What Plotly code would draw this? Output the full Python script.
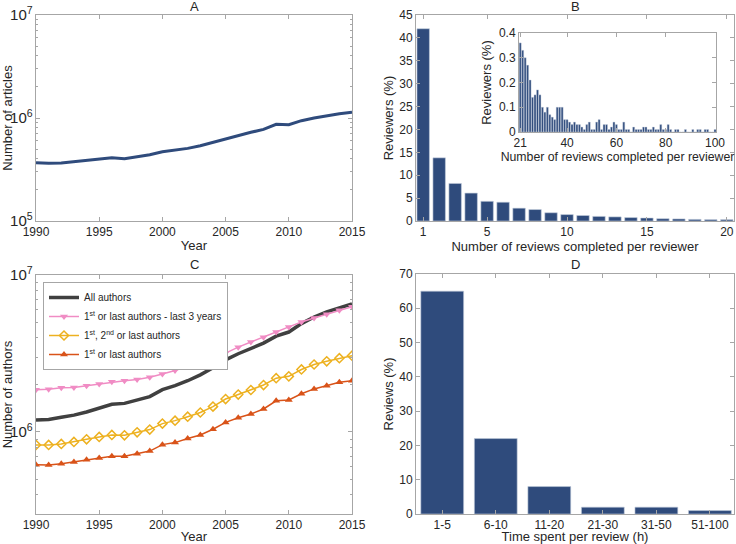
import plotly.graph_objects as go

# ---------------- data ----------------
years = list(range(1990, 2016))

articles = [368e3, 363e3, 365e3, 377e3, 391e3, 400e3, 412e3, 403e3, 421e3, 440e3,
            471e3, 489e3, 507e3, 538e3, 580e3, 635e3, 684e3, 726e3, 776e3, 868e3,
            861e3, 942e3, 1.00e6, 1.05e6, 1.10e6, 1.135e6]

reviews_per_reviewer = list(range(1, 21))
reviewers_pct = [42, 13.8, 8.2, 6.1, 4.3, 4.1, 2.8, 2.5, 1.8, 1.4,
                 1.2, 1.0, 0.9, 0.75, 0.65, 0.5, 0.45, 0.35, 0.3, 0.3]

inset_reviews = list(range(21, 101))
inset_pct = [0.36, 0.33, 0.30, 0.27, 0.21, 0.14, 0.15, 0.17, 0.15, 0.10,
             0.08, 0.10, 0.07, 0.06, 0.05, 0.10, 0.10, 0.10, 0.05, 0.05,
             0.04, 0.03, 0.04, 0.03, 0.03, 0.02, 0.01, 0.03, 0.04, 0.01,
             0.01, 0.04, 0.05, 0.01, 0.03, 0.03, 0.01, 0.02, 0.04, 0.03,
             0.01, 0.01, 0.04, 0.01, 0.01, 0.0, 0.02, 0.01, 0.01, 0.01,
             0.02, 0.02, 0.01, 0.01, 0.02, 0.01, 0.01, 0.03, 0.01, 0.01,
             0.03, 0.01, 0.0, 0.01, 0.01, 0.0, 0.0, 0.01, 0.0, 0.0,
             0.01, 0.0, 0.01, 0.01, 0.0, 0.01, 0.01, 0.0, 0.0, 0.01]

all_authors = [1.19e6, 1.20e6, 1.24e6, 1.28e6, 1.34e6, 1.41e6, 1.50e6, 1.52e6, 1.60e6, 1.68e6,
               1.86e6, 1.97e6, 2.12e6, 2.31e6, 2.56e6, 2.88e6, 3.15e6, 3.40e6, 3.68e6, 4.08e6,
               4.33e6, 4.90e6, 5.40e6, 5.82e6, 6.17e6, 6.55e6]
first_last_3y = [1.86e6, 1.87e6, 1.91e6, 1.92e6, 1.97e6, 2.02e6, 2.09e6, 2.12e6, 2.16e6, 2.23e6,
                 2.34e6, 2.46e6, 2.62e6, 2.77e6, 2.94e6, 3.18e6, 3.47e6, 3.74e6, 4.01e6, 4.33e6,
                 4.67e6, 5.02e6, 5.32e6, 5.62e6, 5.97e6, 6.27e6]
first_second_last = [826e3, 826e3, 838e3, 863e3, 897e3, 929e3, 957e3, 952e3, 995e3, 1.035e6,
                     1.13e6, 1.18e6, 1.25e6, 1.33e6, 1.45e6, 1.62e6, 1.73e6, 1.85e6, 1.99e6, 2.20e6,
                     2.26e6, 2.50e6, 2.69e6, 2.82e6, 2.95e6, 3.06e6]
first_last = [618e3, 615e3, 627e3, 643e3, 665e3, 681e3, 701e3, 699e3, 726e3, 755e3,
              830e3, 855e3, 907e3, 957e3, 1.04e6, 1.15e6, 1.23e6, 1.30e6, 1.40e6, 1.58e6,
              1.60e6, 1.75e6, 1.88e6, 1.97e6, 2.07e6, 2.12e6]

time_labels = ["1-5", "6-10", "11-20", "21-30", "31-50", "51-100"]
time_pct = [65, 22, 8, 2, 2, 1]

# ---------------- style ----------------
W, H = 736, 544
BLUE = "#2f4b7c"
FONT = "Liberation Sans, Arial, sans-serif"
TXT = "#262626"
FRAME = "#a6a6a6"
TICK = 12
TITLE = 13


def px(x0, x1):
    return [x0 / W, x1 / W]


def py(top, bottom):
    return [1 - bottom / H, 1 - top / H]


fig = go.Figure()

# Panel A
fig.add_trace(go.Scatter(x=years, y=articles, mode="lines",
                         line=dict(color=BLUE, width=3), xaxis="x", yaxis="y",
                         showlegend=False))
# Panel B
fig.add_trace(go.Bar(x=reviews_per_reviewer, y=reviewers_pct, width=0.78,
                     marker=dict(color=BLUE, line=dict(color="#c3cddc", width=0.6)),
                     xaxis="x2", yaxis="y2", showlegend=False))
# Inset
fig.add_trace(go.Bar(x=inset_reviews, y=inset_pct, width=0.8,
                     marker=dict(color=BLUE, line=dict(color="#c3cddc", width=0.4)),
                     xaxis="x5", yaxis="y5", showlegend=False))
# Panel C
fig.add_trace(go.Scatter(x=years, y=all_authors, mode="lines", name="All authors",
                         line=dict(color="#404040", width=3.5), xaxis="x3", yaxis="y3"))
fig.add_trace(go.Scatter(x=years, y=first_last_3y, mode="lines+markers",
                         name="1<sup>st</sup> or last authors - last 3 years",
                         line=dict(color="#f08cc4", width=1.5),
                         marker=dict(symbol="triangle-down", size=7, color="#f08cc4"),
                         xaxis="x3", yaxis="y3"))
fig.add_trace(go.Scatter(x=years, y=first_second_last, mode="lines+markers",
                         name="1<sup>st</sup>, 2<sup>nd</sup> or last authors",
                         line=dict(color="#edb120", width=1.5),
                         marker=dict(symbol="diamond-open", size=7, color="#edb120",
                                     line=dict(width=1.5)),
                         xaxis="x3", yaxis="y3"))
fig.add_trace(go.Scatter(x=years, y=first_last, mode="lines+markers",
                         name="1<sup>st</sup> or last authors",
                         line=dict(color="#d95319", width=1.5),
                         marker=dict(symbol="triangle-up", size=7, color="#d95319"),
                         xaxis="x3", yaxis="y3"))
# Panel D
fig.add_trace(go.Bar(x=list(range(1, len(time_labels) + 1)), y=time_pct, width=0.8,
                     marker=dict(color=BLUE, line=dict(color="#c3cddc", width=0.6)),
                     xaxis="x4", yaxis="y4", showlegend=False))

common = dict(showline=True, linecolor=FRAME, linewidth=1, mirror="ticks",
              ticks="inside", ticklen=4, tickcolor=FRAME, showgrid=False, zeroline=False,
              automargin=False,
              tickfont=dict(family=FONT, size=TICK, color=TXT),
              title_font=dict(family=FONT, size=TITLE, color=TXT))

logminor = dict(ticks="inside", ticklen=2, tickcolor=FRAME)

fig.update_layout(
    width=W, height=H, margin=dict(l=0, r=0, t=0, b=0, autoexpand=False),
    paper_bgcolor="white", plot_bgcolor="white",
    font=dict(family=FONT, size=TICK, color=TXT),
    bargap=0.2,
    xaxis=dict(domain=px(36, 352), range=[1990, 2015], tickvals=[1990, 1995, 2000, 2005, 2010, 2015],
               title=dict(text="Year", standoff=2), anchor="y", **common),
    yaxis=dict(domain=py(15, 221), type="log", range=[5, 7], dtick=1, exponentformat="power",
               minor=logminor, title=dict(text="Number of articles", standoff=6), anchor="x", **common),
    xaxis2=dict(domain=px(416, 734), range=[0.55, 20.45], tickvals=[1, 5, 10, 15, 20],
                title=dict(text="Number of reviews completed per reviewer", standoff=2), anchor="y2", **common),
    yaxis2=dict(domain=py(15, 221), range=[0, 45], dtick=5,
                title=dict(text="Reviewers (%)", standoff=2), anchor="x2", **common),
    xaxis3=dict(domain=px(36, 352), range=[1990, 2015], tickvals=[1990, 1995, 2000, 2005, 2010, 2015],
                title=dict(text="Year", standoff=2), anchor="y3", **common),
    yaxis3=dict(domain=py(275, 514), type="log", range=[5.477, 7], dtick=1, exponentformat="power",
                minor=logminor, title=dict(text="Number of authors", standoff=6), anchor="x3", **common),
    xaxis4=dict(domain=px(416, 734), range=[0.51, 6.45], tickvals=list(range(1, 7)), ticktext=time_labels,
                title=dict(text="Time spent per review (h)", standoff=2), anchor="y4", **common),
    yaxis4=dict(domain=py(274, 514), range=[0, 70], dtick=10,
                title=dict(text="Reviews (%)", standoff=2), anchor="x4", **common),
    xaxis5=dict(domain=px(519, 716), range=[20.5, 100.4], tickvals=[21, 40, 60, 80, 100],
                title=dict(text="Number of reviews completed per reviewer", standoff=2,
                           font=dict(family=FONT, size=12.3, color=TXT)),
                anchor="y5", **{k: v for k, v in common.items() if k != "title_font"}),
    yaxis5=dict(domain=py(33, 132), range=[0, 0.4], tickvals=[0, 0.1, 0.2, 0.3, 0.4],
                ticktext=["0", "0.1", "0.2", "0.3", "0.4"],
                title=dict(text="Reviewers (%)", standoff=4), anchor="x5", **common),
    legend=dict(x=43 / W, y=1 - 282 / H, xanchor="left", yanchor="top",
                bgcolor="white", bordercolor=FRAME, borderwidth=1,
                font=dict(family=FONT, size=10, color=TXT),
                tracegroupgap=0, itemwidth=30),
)

for txt, xc, yt in [("A", 194, 7), ("B", 575, 7), ("C", 194, 264), ("D", 575, 264)]:
    fig.add_annotation(text=txt, x=xc / W, y=1 - yt / H, xref="paper", yref="paper",
                       showarrow=False, font=dict(family=FONT, size=TITLE, color=TXT),
                       xanchor="center", yanchor="middle")

fig.write_html("out.html", config={"displayModeBar": False},
               post_script="document.body.style.margin='0';")
